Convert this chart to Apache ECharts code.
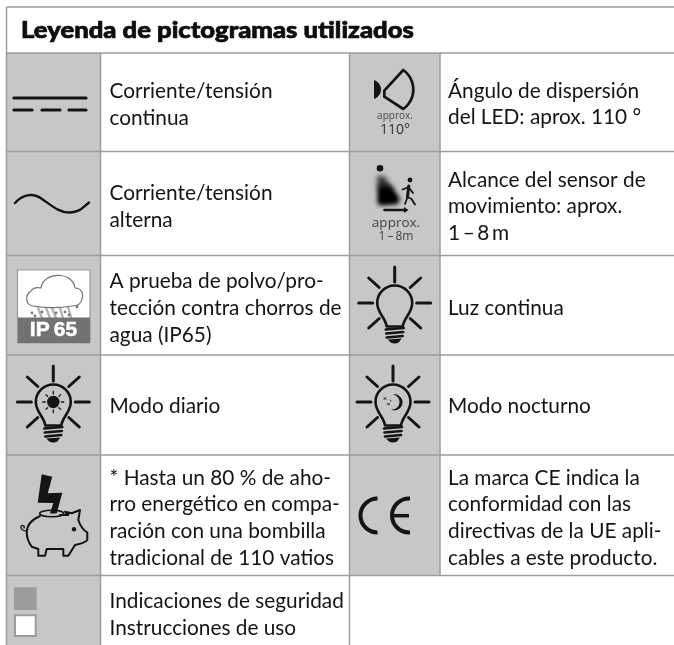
<!DOCTYPE html>
<html>
<head>
<meta charset="utf-8">
<title>Leyenda de pictogramas</title>
<script src="https://cdn.jsdelivr.net/npm/echarts@6/dist/echarts.min.js"></script>
<style>
html, body { margin: 0; padding: 0; background: #fff; }
#main { width: 674px; height: 645px; }
</style>
</head>
<body>
<div id="main"></div>
<script>
var titleText = 'Leyenda de pictogramas utilizados';
var leftCells = [
    ['Corriente/tensión', 'continua'],
    ['Corriente/tensión', 'alterna'],
    ['A prueba de polvo/pro-', 'tección contra chorros de', 'agua (IP65)'],
    ['Modo diario'],
    ['* Hasta un 80 % de aho-', 'rro energético en compa-', 'ración con una bombilla', 'tradicional de 110 vatios'],
    ['Indicaciones de seguridad', 'Instrucciones de uso']
];
var rightCells = [
    ['Ángulo de dispersión', 'del LED: aprox. 110 °'],
    ['Alcance del sensor de', 'movimiento: aprox.', '1\u2009–\u20098\u2009m'],
    ['Luz continua'],
    ['Modo nocturno'],
    ['La marca CE indica la', 'conformidad con las', 'directivas de la UE apli-', 'cables a este producto.']
];
var iconLabels = ['approx.', '110°', '1\u2009–\u20098m', 'IP\u200965'];

// table layout
var colX = [6.5, 100.5, 349.5, 440];
var rowY = [7, 53, 151.5, 255.5, 355, 455, 575.5, 645];
var leftFirstLine = [91.5, 193.5, 281.5, 406.5, 478, 601.5];
var rightFirstLine = [91, 180, 308, 406.5, 478];
var linePitch = 26.7;

var ink = '#141414';
var rule = '#9d9d9d';
var cellGrey = '#c6c8c7';
var els = [];
var pathCount = 0;

// small svg path helper, the graphic component has no plain path type
function path(d, style, x, y) {
    var name = 'picto' + (pathCount++);
    echarts.graphic.registerShape(name, echarts.graphic.extendPath(d));
    els.push({ type: name, x: x || 0, y: y || 0, style: style });
}
function stroke(d, w, x, y) {
    path(d, { fill: 'none', stroke: ink, lineWidth: w, lineCap: 'round', lineJoin: 'round' }, x, y);
}
function solid(d, x, y) {
    path(d, { fill: ink, stroke: 'none' }, x, y);
}
function rect(x, y, w, h, fill) {
    els.push({ type: 'rect', shape: { x: x, y: y, width: w, height: h }, style: { fill: fill } });
}
function rule_(x1, y1, x2, y2) {
    els.push({ type: 'line', shape: { x1: x1, y1: y1, x2: x2, y2: y2 }, style: { stroke: rule, lineWidth: 1.5 } });
}
function label(txt, x, y, font, color, align) {
    els.push({
        type: 'text', x: x, y: y,
        style: { text: txt, font: font, fill: color || ink, textAlign: align || 'left', textVerticalAlign: 'middle' }
    });
}
function blurred(points, color) {
    els.push({
        type: 'polygon', x: -1000,
        shape: { points: points },
        style: { fill: '#000', shadowBlur: 5, shadowColor: color, shadowOffsetX: 1000 }
    });
}

function bulb(cx, cy) {
    stroke('M-8 23.5C-9 15 -17.5 10 -17.5 0A17.5 17.5 0 1 1 17.5 0C17.5 10 9 15 8 23.5Z', 2.6, cx, cy);
    stroke('M0 -36V-21M-36 0H-22M22 0H36M-26 -25L-15.5 -15.5M26 -25L15.5 -15.5M-26 25L-15.5 15.5M26 25L15.5 15.5', 3, cx, cy);
    stroke('M-9 26.5L9 25M-8.5 30.5L8.5 29M-8 34.5L8 33', 2.6, cx, cy);
    solid('M-7 36.5L7 35.5L4 39.5Q0 41.5 -4 39.5Z', cx, cy);
}

rect(colX[0], rowY[1], colX[1] - colX[0], rowY[7] - rowY[1], cellGrey);
rect(colX[2], rowY[1], colX[3] - colX[2], rowY[6] - rowY[1], cellGrey);

rule_(colX[0], rowY[0], 674, rowY[0]);
rule_(colX[0], rowY[0], colX[0], rowY[7]);
rowY.slice(1, 7).forEach(function (y) { rule_(colX[0], y, 674, y); });
rule_(colX[1], rowY[1], colX[1], rowY[7]);
rule_(colX[2], rowY[1], colX[2], rowY[7]);
rule_(colX[3], rowY[1], colX[3], rowY[6]);

// texts
var bodyFont = '20.8px Lato';
els.push({
    type: 'text', x: 21, y: 31, scaleX: 1.14,
    style: { text: titleText, font: '900 22.5px Lato', fill: '#0d0d0d', stroke: '#0d0d0d', lineWidth: 0.7, textVerticalAlign: 'middle' }
});
leftCells.forEach(function (lines, i) {
    lines.forEach(function (t, k) { label(t, colX[1] + 9, leftFirstLine[i] + k * linePitch, bodyFont); });
});
rightCells.forEach(function (lines, i) {
    lines.forEach(function (t, k) { label(t, colX[3] + 8, rightFirstLine[i] + k * linePitch, bodyFont); });
});

// continuous current
stroke('M14 98H86M14 110H32M42 110H60M69 110H86', 3.2);
// alternating current
stroke('M15 203C22 195 32 192 42 199S60 213 70 212.5S82 208 89 202.5', 2.4);

// IP65
rect(17.5, 270, 72.5, 73, '#fff');
els.push({ type: 'rect', shape: { x: 17.5, y: 270, width: 72.5, height: 73 }, style: { fill: 'none', stroke: '#9a9a9a', lineWidth: 1.2 } });
stroke('M38 308L42 318M46 308L50 318M52 308L56 318M60 308L63 318M68 307L71 317', 2.4);
els[els.length - 1].style.stroke = '#b4b4b4';
[[32, 313], [35, 316], [42, 312], [56, 313], [65, 312], [69, 315], [77, 307]].forEach(function (p) {
    els.push({ type: 'circle', shape: { cx: p[0], cy: p[1], r: 1.4 }, style: { fill: '#7a7a7a' } });
});
path('M33 306C26 305 24 296 31 291C33 288 37 287 41 288C42 280 50 275 60 275.5C68 276 74 281 75 288C81 288 84 293 82 299C81 304 77 306 72 306C60 308 45 308 33 306Z',
    { fill: '#fff', stroke: '#6f6f6f', lineWidth: 1.2 });
rect(18, 317.5, 72, 25.5, '#727272');
els.push({
    type: 'text', x: 53.5, y: 330.5,
    style: { text: iconLabels[3], font: 'bold 21px "Liberation Sans"', fill: '#fff', stroke: '#fff', lineWidth: 0.5, textAlign: 'center', textVerticalAlign: 'middle' }
});

// bulbs
bulb(394.7, 303);
bulb(53.3, 402);
bulb(393, 402);
// sun inside the day bulb
els.push({ type: 'circle', shape: { cx: 53.3, cy: 402, r: 6.2 }, style: { fill: ink } });
stroke('M53.3 391.5V394M53.3 410V412.5M42.8 402H45.3M61.3 402H63.8M45.9 394.6L47.6 396.3M59 407.7L60.7 409.4M45.9 409.4L47.6 407.7M59 396.3L60.7 394.6', 1.3);
// moon inside the night bulb
solid('M393 394.5A8 8 0 1 1 391 409.5A7 7 0 0 0 393 394.5Z');
stroke('M384 397.5L386 399.5M386 397.5L384 399.5M387.5 403L389.5 405M389.5 403L387.5 405M390 400L391 401', 0.9);

// beam angle
solid('M374 80C379 82 381 86 381 89.5C381 93 379 97 374 99Z');
stroke('M384.3 90.7L403.3 70A24 24 0 0 1 403.3 109L384.3 96.7Z', 2.7);
label(iconLabels[0], 395, 116.5, '10px "Open Sans"', '#4a4a4a', 'center');
label(iconLabels[1], 395, 130.5, '14px "Open Sans"', '#333', 'center');

// motion sensor, the cone is only its own blurred shadow
els.push({ type: 'circle', shape: { cx: 380, cy: 168.3, r: 3.3 }, style: { fill: ink } });
blurred([[377, 176], [384, 176], [394, 190], [378, 190]], 'rgba(0,0,0,0.75)');
blurred([[378, 186], [391, 186], [400, 199], [398, 204], [378, 205]], '#000');
blurred([[380, 190], [390, 190], [396, 199], [394, 202], [380, 203]], '#000');
els.push({ type: 'circle', shape: { cx: 410, cy: 180, r: 2.4 }, style: { fill: ink } });
stroke('M408.8 186L407.5 197', 3);
stroke('M402.5 189.5L408.5 187L413 193M407.5 197L405 204M407.5 197L411.5 199L415 204.5', 1.8);
stroke('M384.5 210H405', 2.6);
solid('M404 207L408.5 210L404 213Z');
label(iconLabels[0], 396, 223, '13.5px "Open Sans"', '#444', 'center');
label(iconLabels[2], 396, 236.5, '12px "Open Sans"', '#444', 'center');

// piggy bank
solid('M41.7 474.3L52.3 476.7L47.7 493.3L62.3 492.7L56.7 513.5L50 513.5L53.3 503L37.7 502.7Z');
els.push({ type: 'ellipse', shape: { cx: 51.7, cy: 513.5, rx: 12, ry: 3.2 }, style: { fill: 'none', stroke: ink, lineWidth: 1.6 } });
stroke('M40 516C31 520 26.5 526 26.7 533C27 539 29 543 31.7 546.7L38.3 549V555.7H45L46.7 549H63.3V555.7H68.3L75 545C80 544 85 543 87.3 540V532.5C83 530 80 525 78.3 520L80 510L71.7 513.3L65 511.7L68.3 515L60 515', 2);
stroke('M26.7 531C23 531 20 529 21 526.5C22 524.5 25 525.5 24 528', 1.4);
els.push({ type: 'circle', shape: { cx: 74, cy: 529.3, r: 2.2 }, style: { fill: ink } });

// CE mark
path('M377.5 498.5A17 17 0 0 0 377.5 532.5', { fill: 'none', stroke: ink, lineWidth: 4 });
path('M410 498.5H409A17 17 0 0 0 409 532.5H410', { fill: 'none', stroke: ink, lineWidth: 4 });
path('M393 515.7H409', { fill: 'none', stroke: ink, lineWidth: 3.5 });

// safety / instruction swatches
rect(14, 587.3, 22.7, 22.7, '#9b9b9b');
els.push({ type: 'rect', shape: { x: 15, y: 615.3, width: 20.7, height: 20.7 }, style: { fill: '#fff', stroke: '#9b9b9b', lineWidth: 2 } });

var myChart = echarts.init(document.getElementById('main'));
myChart.setOption({
    animation: false,
    backgroundColor: '#fff',
    graphic: { elements: els }
});
</script>
</body>
</html>
